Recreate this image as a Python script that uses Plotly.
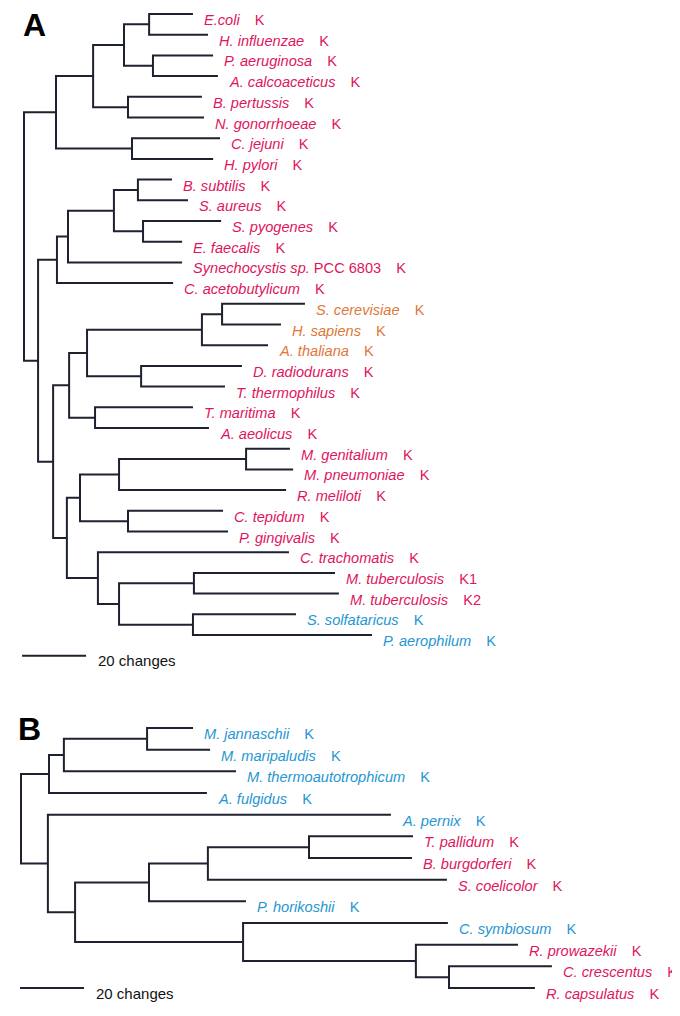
import plotly.graph_objects as go

# ---------------- Data: tree A ----------------
A_LEAF_NAMES = ["E.coli", "H. influenzae", "P. aeruginosa", "A. calcoaceticus",
                "B. pertussis", "N. gonorrhoeae", "C. jejuni", "H. pylori",
                "B. subtilis", "S. aureus", "S. pyogenes", "E. faecalis",
                "Synechocystis sp.|PCC 6803", "C. acetobutylicum",
                "S. cerevisiae", "H. sapiens", "A. thaliana",
                "D. radiodurans", "T. thermophilus", "T. maritima", "A. aeolicus",
                "M. genitalium", "M. pneumoniae", "R. meliloti",
                "C. tepidum", "P. gingivalis", "C. trachomatis",
                "M. tuberculosis", "M. tuberculosis",
                "S. solfataricus", "P. aerophilum"]
A_LEAF_TAGS = ["K"] * 27 + ["K1", "K2", "K", "K"]
A_LEAF_GROUP = (["bac"] * 14 + ["euk"] * 3 + ["bac"] * 12 + ["arc"] * 2)
A_LEAF_DEPTH = [52.8, 57.5, 59.1, 60.6, 55.6, 56.25, 61.25, 59.1,
                46.25, 51.25, 61.6, 49.4, 49.4, 46.6,
                87.8, 80.3, 76.25, 68.1, 62.8, 52.8, 57.8,
                83.1, 84.1, 81.9, 62.2, 63.75, 82.8,
                97.2, 98.4, 85.0, 108.75]
# internal nodes (index = 31 + position), children refer to leaf / node indices
A_NODE_CHILDREN = [(0, 1), (2, 3), (31, 32), (4, 5), (33, 34), (6, 7), (35, 36),
                   (8, 9), (10, 11), (38, 39), (40, 12), (41, 13),
                   (14, 15), (43, 16), (17, 18), (44, 45), (19, 20), (46, 47),
                   (21, 22), (49, 23), (24, 25), (50, 51), (27, 28), (29, 30),
                   (53, 54), (26, 55), (52, 56), (48, 57), (42, 58), (37, 59)]
A_NODE_DEPTH = [39.1, 40.3, 31.25, 32.5, 21.6, 33.75, 10.0,
                35.6, 37.2, 28.1, 13.75, 10.3,
                61.9, 55.6, 36.6, 19.7, 22.2, 14.1,
                69.4, 29.7, 32.5, 17.5, 53.1, 52.8,
                29.7, 23.1, 13.4, 9.1, 4.4, 0.0]

# ---------------- Data: tree B ----------------
B_LEAF_NAMES = ["M. jannaschii", "M. maripaludis", "M. thermoautotrophicum",
                "A. fulgidus", "A. pernix", "T. pallidum", "B. burgdorferi",
                "S. coelicolor", "P. horikoshii", "C. symbiosum",
                "R. prowazekii", "C. crescentus", "R. capsulatus"]
B_LEAF_TAGS = ["K"] * 13
B_LEAF_GROUP = ["arc"] * 5 + ["bac"] * 3 + ["arc"] * 2 + ["bac"] * 3
B_LEAF_DEPTH = [53.75, 59.1, 67.2, 58.1, 115.6, 122.5, 122.2, 133.1,
                70.3, 133.4, 155.3, 165.9, 160.6]
B_NODE_CHILDREN = [(0, 1), (13, 2), (14, 3), (5, 6), (16, 7), (17, 8),
                   (11, 12), (10, 19), (9, 20), (18, 21), (4, 22), (15, 23)]
B_NODE_DEPTH = [39.4, 13.4, 8.75, 90.0, 58.4, 40.0,
                133.75, 123.4, 69.4, 16.9, 8.4, 0.0]

SCALE_LEN = 20  # changes
SCALE_LABEL = "20 changes"
PANEL_LABELS = ["A", "B"]

# ---------------- Styles ----------------
COLORS = {"bac": "#E0155D", "euk": "#E0773A", "arc": "#2596D2"}
LINE_COLOR = "#1E2230"
FONT = "Liberation Sans, Arial, Helvetica, sans-serif"
OFF = 8                      # default page body margin
W, H = 680, 1016 - 2 * OFF

fig = go.Figure()


def build_tree(leaf_depth, node_children, node_depth):
    n = len(leaf_depth)
    depth = list(leaf_depth) + list(node_depth)
    ypos = list(range(n)) + [None] * len(node_depth)
    xs, ys = [], []
    for k, (c0, c1) in enumerate(node_children):
        idx = n + k
        ypos[idx] = (ypos[c0] + ypos[c1]) / 2.0
        xs += [depth[c0], depth[idx], depth[idx], depth[c1], None]
        ys += [ypos[c0], ypos[c0], ypos[c1], ypos[c1], None]
    return xs, ys


GAP = "\u00a0" * 3 + "\u2009"


def label_text(name, tag):
    if "|" in name:
        it, rest = name.split("|")
        return f"<i>{it}</i>\u00a0{rest}{GAP}{tag}"
    return f"<i>{name}</i>{GAP}{tag}"


trees = [
    (A_LEAF_NAMES, A_LEAF_TAGS, A_LEAF_GROUP, A_LEAF_DEPTH, A_NODE_CHILDREN, A_NODE_DEPTH, "x", "y", -0.6, 31),
    (B_LEAF_NAMES, B_LEAF_TAGS, B_LEAF_GROUP, B_LEAF_DEPTH, B_NODE_CHILDREN, B_NODE_DEPTH, "x2", "y2", -0.3, 12),
]

annotations = []
for names, tags, groups, ldepth, nchild, ndepth, xa, ya, sb_x, sb_y in trees:
    xs, ys = build_tree(ldepth, nchild, ndepth)
    fig.add_trace(go.Scatter(x=xs, y=ys, mode="lines", xaxis=xa, yaxis=ya,
                             line=dict(color=LINE_COLOR, width=2),
                             hoverinfo="skip", showlegend=False))
    # scale bar
    fig.add_trace(go.Scatter(x=[sb_x, sb_x + SCALE_LEN], y=[sb_y, sb_y], mode="lines",
                             xaxis=xa, yaxis=ya, line=dict(color=LINE_COLOR, width=2),
                             hoverinfo="skip", showlegend=False))
    annotations.append(dict(x=sb_x + SCALE_LEN, y=sb_y, xref=xa, yref=ya,
                            text=SCALE_LABEL, showarrow=False, xanchor="left",
                            yanchor="middle", xshift=10, yshift=-5,
                            font=dict(family=FONT, size=15, color="#111111")))
    for i, (nm, tg, gp, d) in enumerate(zip(names, tags, groups, ldepth)):
        annotations.append(dict(x=d, y=i, xref=xa, yref=ya,
                                text=label_text(nm, tg), showarrow=False,
                                xanchor="left", yanchor="middle",
                                xshift=9, yshift=-6,
                                font=dict(family=FONT, size=14.6, color=COLORS[gp])))

# panel letters
annotations.append(dict(x=(21 - OFF) / W, y=1 - (25 - OFF) / H, xref="paper", yref="paper",
                        text=f"<b>{PANEL_LABELS[0]}</b>",
                        showarrow=False, xanchor="left", yanchor="middle",
                        font=dict(family=FONT, size=32, color="#000000")))
annotations.append(dict(x=(16 - OFF) / W, y=1 - (729 - OFF) / H, xref="paper", yref="paper",
                        text=f"<b>{PANEL_LABELS[1]}</b>",
                        showarrow=False, xanchor="left", yanchor="middle",
                        font=dict(family=FONT, size=32, color="#000000")))

ax_common = dict(visible=False, showgrid=False, zeroline=False, domain=[0, 1], fixedrange=True)


def xrange(x0, s):
    x0 -= OFF
    return [-x0 / s, (W - x0) / s]


def yrange(y0, s):
    y0 -= OFF
    return [(H - y0) / s, -y0 / s]


# page pixel mapping: A: x = 24 + 3.2*d, y = 14 + 20.7*i ; B: x = 21 + 3.2*d, y = 728 + 21.67*i
fig.update_layout(
    width=W, height=H,
    margin=dict(l=0, r=0, t=0, b=0),
    paper_bgcolor="white", plot_bgcolor="rgba(0,0,0,0)",
    xaxis=dict(range=xrange(24, 3.2), anchor="y", **ax_common),
    yaxis=dict(range=yrange(14, 20.7), anchor="x", **ax_common),
    xaxis2=dict(range=xrange(21, 3.2), anchor="y2", **ax_common),
    yaxis2=dict(range=yrange(728, 21.67), anchor="x2", **ax_common),
    annotations=annotations,
)

fig.write_html("out.html")
